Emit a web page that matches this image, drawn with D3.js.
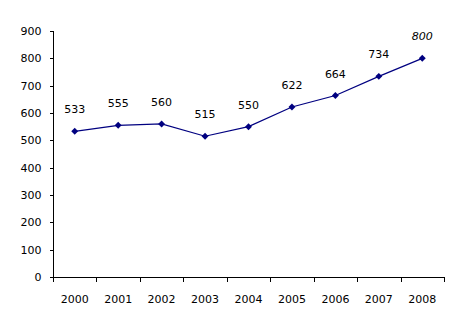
<!DOCTYPE html>
<html><head><meta charset="utf-8">
<script src="https://cdn.jsdelivr.net/npm/d3@7"></script>
<style>body{margin:0;background:#fff}svg{display:block}text{font-family:"DejaVu Sans",sans-serif;font-size:11px;fill:#000}</style>
</head><body><svg id="c" width="458" height="331"></svg>
<script>
const years = ["2000","2001","2002","2003","2004","2005","2006","2007","2008"];
const values = [533,555,560,515,550,622,664,734,800];
const yTicks = [0,100,200,300,400,500,600,700,800,900];

(function(){
const svg = d3.select("#c");
const mL = 53, mR = 444, mT = 31, mB = 277;
const x = d3.scaleBand().domain(years).range([mL, mR]);
const y = d3.scaleLinear().domain([0, 900]).range([mB, mT]);

const ya = svg.append("g").attr("transform", `translate(${mL + 0.5},0)`)
  .call(d3.axisLeft(y).tickValues(yTicks).tickSize(4).tickPadding(8));
const xa = svg.append("g").attr("transform", `translate(0,${mB + 0.5})`)
  .call(d3.axisBottom(x).tickSize(0).tickPadding(18));
[ya, xa].forEach(g => {
  g.selectAll("path").attr("stroke", "#000").attr("shape-rendering", "crispEdges");
  g.selectAll("line").attr("stroke", "#000").attr("shape-rendering", "crispEdges");
  g.selectAll("text").attr("font-family", "DejaVu Sans").attr("font-size", 11).attr("fill", "#000");
});
ya.select(".domain").attr("d", `M0,${mT}V${mB}`);
xa.select(".domain").attr("d", `M${mL},0H${mR}`);
svg.append("g").selectAll("line").data(years.concat(["end"])).join("line")
  .attr("x1", (d, i) => Math.round(mL + i * x.step()) + 0.5)
  .attr("x2", (d, i) => Math.round(mL + i * x.step()) + 0.5)
  .attr("y1", mB).attr("y2", mB + 5).attr("stroke", "#000");

const cx = d => x(d) + x.bandwidth() / 2;
const pts = years.map((yr, i) => ({yr, v: values[i]}));
svg.append("path").datum(pts)
  .attr("fill", "none").attr("stroke", "#000080").attr("stroke-width", 1.2)
  .attr("d", d3.line().x(d => cx(d.yr)).y(d => y(d.v)));
svg.append("g").selectAll("path").data(pts).join("path")
  .attr("d", d3.symbol().type(d3.symbolSquare).size(24))
  .attr("transform", d => `translate(${cx(d.yr)},${y(d.v)}) rotate(45)`)
  .attr("fill", "#000080");
svg.append("g").selectAll("text").data(pts).join("text")
  .attr("x", d => cx(d.yr)).attr("y", d => y(d.v) - 18)
  .attr("text-anchor", "middle")
  .attr("font-style", (d, i) => i === pts.length - 1 ? "italic" : "normal")
  .text(d => d.v);
})();
</script></body></html>
